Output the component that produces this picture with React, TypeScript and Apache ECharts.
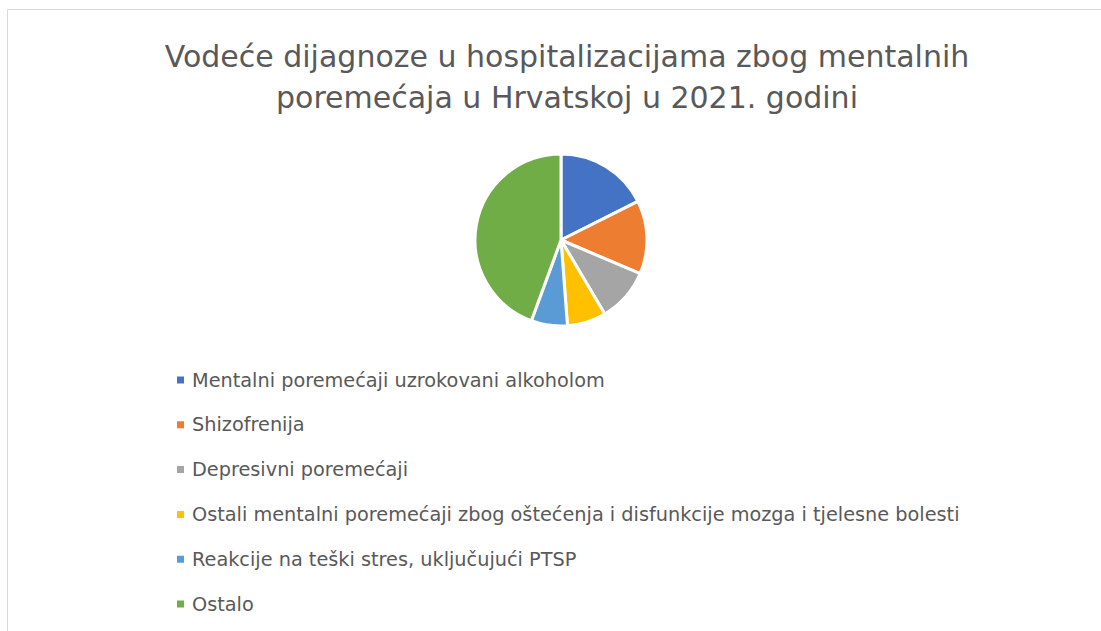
import React, { useEffect, useRef } from "react";
import * as echarts from "echarts";

const titleLines = [
  "Vodeće dijagnoze u hospitalizacijama zbog mentalnih",
  "poremećaja u Hrvatskoj u 2021. godini",
];
const categories = [
  "Mentalni poremećaji uzrokovani alkoholom",
  "Shizofrenija",
  "Depresivni poremećaji",
  "Ostali mentalni poremećaji zbog oštećenja i disfunkcije mozga i tjelesne bolesti",
  "Reakcije na teški stres, uključujući PTSP",
  "Ostalo",
];
const values = [17.6, 13.8, 10.1, 7.3, 6.8, 44.4];
const colors = ["#4472C4", "#ED7D31", "#A5A5A5", "#FFC000", "#5B9BD5", "#70AD47"];

export default function App() {
  const ref = useRef<HTMLDivElement>(null);
  useEffect(() => {
    if (!ref.current) return;
    const chart = echarts.init(ref.current, undefined, { renderer: "svg" });
    const font = "'DejaVu Sans', sans-serif";
    chart.setOption({
      animation: false,
      backgroundColor: "#ffffff",
      color: colors,
      title: {
        text: titleLines.join("\n"),
        left: 562,
        textAlign: "center",
        top: 31,
        textStyle: {
          fontFamily: font,
          fontWeight: "normal",
          fontSize: 30,
          color: "#595959",
          lineHeight: 41,
        },
      },
      legend: {
        orient: "vertical",
        left: 175,
        top: 370,
        padding: 0,
        itemGap: 24.8,
        itemWidth: 9,
        itemHeight: 9,
        icon: "rect",
        data: categories,
        textStyle: {
          fontFamily: font,
          fontSize: 19.3,
          color: "#595959",
          padding: [0, 0, 0, 2],
          lineHeight: 20,
        },
      },
      graphic: [
        {
          type: "rect",
          shape: { x: 7.5, y: 9.5, width: 1200, height: 800 },
          style: { fill: "none", stroke: "#d9d9d9", lineWidth: 1 },
          silent: true,
        },
      ],
      series: [
        {
          type: "pie",
          center: [561, 240],
          radius: 86,
          startAngle: 90,
          clockwise: true,
          label: { show: false },
          labelLine: { show: false },
          itemStyle: { borderColor: "#ffffff", borderWidth: 3 },
          data: categories.map((name, i) => ({ name, value: values[i] })),
        },
      ],
    });
    return () => chart.dispose();
  }, []);
  return (
    <div
      ref={ref}
      style={{ position: "fixed", left: 0, top: 0, width: 1101, height: 631 }}
    />
  );
}
